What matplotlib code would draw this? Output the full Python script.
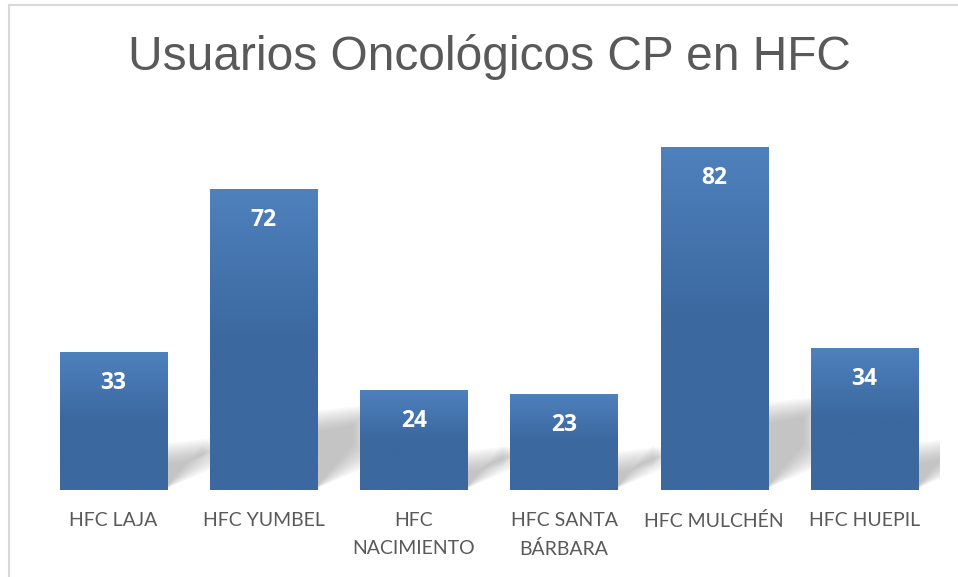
import numpy as np
import matplotlib.pyplot as plt
from matplotlib.patches import Polygon
from matplotlib.lines import Line2D

categories = ['HFC LAJA', 'HFC YUMBEL', 'HFC\nNACIMIENTO', 'HFC SANTA\nBÁRBARA', 'HFC MULCHÉN', 'HFC HUEPIL']
values = [33, 72, 24, 23, 82, 34]

TOP = '#4F81BD'
BOTTOM = '#3B689F'
GREY = '#595959'

fig = plt.figure(figsize=(9.58, 5.77), dpi=100)
ax = fig.add_axes([38.5 / 958, 87 / 577, 901 / 958, 0.652])

x = np.arange(len(values))
width = 0.715
ax.set_xlim(-0.5, len(values) - 0.5)
ax.set_ylim(0, 90)

# soft shadow behind each bar: stacked translucent polygons, shrinking inwards = blur
for xi, h in zip(x, values):
    xr = xi + width / 2
    hs = 2.0 + 0.2 * h
    dx = 0.3
    for e in np.linspace(-2.5, 2.5, 14):
        pts = [(xr - 0.02, 0.2),
               (xr - 0.02, hs - e),
               (xr + dx - e * 0.025, hs + 1.5 - e),
               (xr + dx - e * 0.025, 8.5 + e)]
        ax.add_patch(Polygon(pts, closed=True, facecolor='#a0a0a0',
                             edgecolor='none', alpha=0.06, zorder=1))

grad = np.linspace(0, 1, 256).reshape(-1, 1)
cmap = plt.matplotlib.colors.LinearSegmentedColormap.from_list('g', [BOTTOM, BOTTOM, TOP])
bars = ax.bar(x, values, width=width, color=TOP, zorder=2)
for b, h in zip(bars, values):
    x0 = b.get_x()
    im = ax.imshow(grad, cmap=cmap, origin='lower', aspect='auto',
                   extent=[x0, x0 + b.get_width(), 0, h], zorder=3)
    im.set_clip_path(b)
    ax.text(b.get_x() + b.get_width() / 2, h - 7.4, str(h), ha='center', va='center',
            color='white', fontsize=16.5, fontweight='bold', family='Open Sans', zorder=4)

ax.set_xlim(-0.5, len(values) - 0.5)
ax.set_ylim(0, 90)
ax.set_xticks(x)
ax.set_xticklabels(categories, fontsize=14, color=GREY, family='Lato', linespacing=1.75)
ax.tick_params(axis='x', length=0, pad=16)
ax.set_yticks([])
for sp in ax.spines.values():
    sp.set_visible(False)

fig.text(489 / 958, 1 - 57 / 577, 'Usuarios Oncológicos CP en HFC', ha='center', va='center',
         fontsize=34.5, color=GREY, family='Liberation Sans')

# chart frame, only top and left edges show
fig.add_artist(Line2D([8.5 / 958, 8.5 / 958], [0, 1 - 5 / 577], color='#D9D9D9', lw=1.5))
fig.add_artist(Line2D([8.5 / 958, 1], [1 - 5 / 577, 1 - 5 / 577], color='#D9D9D9', lw=1.5))

fig.savefig('out.png', dpi=100)
